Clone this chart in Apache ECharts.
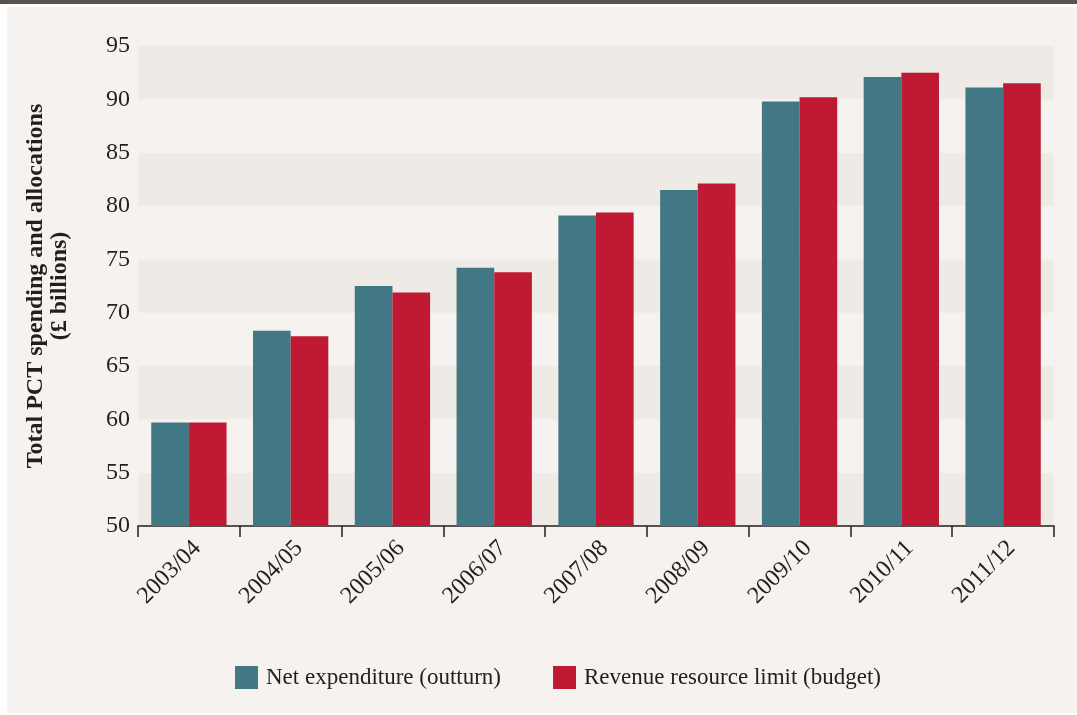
<!DOCTYPE html>
<html>
<head>
<meta charset="utf-8">
<script src="https://cdn.jsdelivr.net/npm/echarts@6/dist/echarts.min.js"></script>
<style>
  html, body { margin: 0; padding: 0; background: #ffffff; }
  #chart { width: 1077px; height: 715px; }
</style>
</head>
<body>
<div id="chart"></div>
<script>
// Financial years on the category axis
const years = ['2003/04', '2004/05', '2005/06', '2006/07', '2007/08', '2008/09', '2009/10', '2010/11', '2011/12'];
// Net expenditure (outturn), £ billions
const outturn = [59.7, 68.3, 72.5, 74.2, 79.1, 81.5, 89.8, 92.1, 91.1];
// Revenue resource limit (budget), £ billions
const budget = [59.7, 67.8, 71.9, 73.8, 79.4, 82.1, 90.2, 92.5, 91.5];
const seriesNames = ['Net expenditure (outturn)', 'Revenue resource limit (budget)'];
const yTicks = { min: 50, max: 95, step: 5 };

const FONT = '"Liberation Serif", "DejaVu Serif", serif';
const INK = '#231f20';
const TEAL = '#427885';
const RED = '#c01933';

const chart = echarts.init(document.getElementById('chart'), null, { renderer: 'canvas' });

chart.setOption({
  animation: false,
  backgroundColor: 'transparent',
  graphic: [
    { type: 'rect', z: -10, shape: { x: 0, y: 0, width: 1077, height: 4 }, style: { fill: '#5b514d' } },
    { type: 'rect', z: -10, shape: { x: 7, y: 7, width: 1070, height: 706 }, style: { fill: '#f5f2ef' } }
  ],
  textStyle: { fontFamily: FONT, color: INK },
  grid: { left: 138, right: 23, top: 46, bottom: 189, containLabel: false },
  legend: {
    left: 230,
    top: 661,
    itemWidth: 23,
    itemHeight: 23,
    itemGap: 52,
    icon: 'rect',
    textStyle: { fontFamily: FONT, fontSize: 23, color: INK, padding: [0, 0, 0, 3] },
    data: seriesNames
  },
  xAxis: {
    type: 'category',
    data: years,
    axisLine: { show: true, lineStyle: { color: INK, width: 1.5 } },
    axisTick: { show: true, length: 11, lineStyle: { color: INK, width: 1.5 } },
    axisLabel: { rotate: 45, fontSize: 24, color: INK, fontFamily: FONT, margin: 10, verticalAlign: 'top' },
    splitLine: { show: false }
  },
  yAxis: {
    type: 'value',
    min: yTicks.min,
    max: yTicks.max,
    interval: yTicks.step,
    name: 'Total PCT spending and allocations\n(£ billions)',
    nameLocation: 'middle',
    nameRotate: 90,
    nameGap: 66,
    nameTextStyle: { fontFamily: FONT, fontSize: 24, fontWeight: 'bold', color: INK, lineHeight: 24 },
    axisLine: { show: false },
    axisTick: { show: false },
    axisLabel: { fontSize: 24, color: INK, fontFamily: FONT, margin: 8 },
    splitLine: { show: false },
    splitArea: { show: true, areaStyle: { color: ['#eeebe6', '#f5f2ef'] } }
  },
  series: [
    {
      name: seriesNames[0],
      type: 'bar',
      data: outturn,
      itemStyle: { color: TEAL },
      barGap: '0%',
      barCategoryGap: '26%'
    },
    {
      name: seriesNames[1],
      type: 'bar',
      data: budget,
      itemStyle: { color: RED },
      barGap: '0%',
      barCategoryGap: '26%'
    }
  ]
});
</script>
</body>
</html>
